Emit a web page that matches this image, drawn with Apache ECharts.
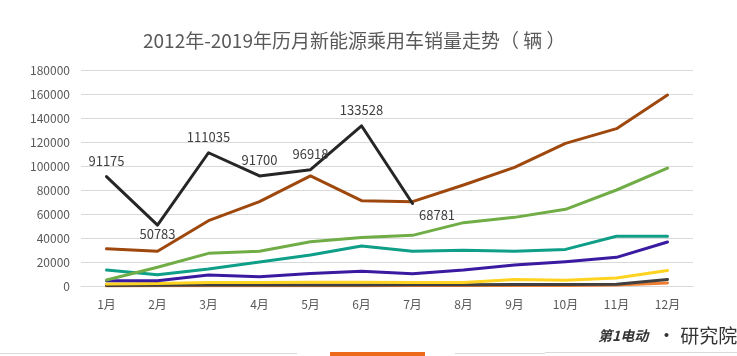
<!DOCTYPE html>
<html><head><meta charset="utf-8">
<script src="https://cdn.jsdelivr.net/npm/echarts@6/dist/echarts.min.js"></script>
<style>html,body{margin:0;padding:0;background:#fff}#c{width:737px;height:356px}</style>
</head><body><div id="c"></div>
<script>
const months = ['1月','2月','3月','4月','5月','6月','7月','8月','9月','10月','11月','12月'];
const seriesNames = ['2012','2013','2014','2015','2016','2017','2018','2019'];
const s2012 = [100,150,200,250,300,300,350,350,400,500,800,2600];
const s2013 = [500,600,800,800,900,900,1000,1000,1200,1300,1500,5500];
const s2014 = [1700,2000,3000,3000,3200,3200,3000,3000,5500,4800,6700,13000];
const s2015 = [4400,4400,9200,7800,10500,12200,10300,13300,17500,20300,23900,36700];
const s2016 = [13300,9400,14200,20000,25800,33300,28900,29700,28900,30500,41400,41400];
const s2017 = [5000,15600,27200,28900,36900,40500,42200,52800,57200,63900,80000,98300];
const s2018 = [31000,29000,54400,70300,91700,71100,70300,84200,98900,118900,131100,159200];
const s2019 = [91175,50783,111035,91700,96918,133528,68781];
const yTicks = [0,20000,40000,60000,80000,100000,120000,140000,160000,180000];
const colors = ['#ED7D31','#404040','#FFD320','#3A1AA0','#0F9E87','#70AD47','#9E480E','#262626'];
const allData = [s2012,s2013,s2014,s2015,s2016,s2017,s2018,s2019];

const font = '"Noto Sans CJK SC", "Noto Sans", sans-serif';
const series = allData.map((d, i) => {
  const s = {
    name: seriesNames[i], type: 'line', data: d, symbol: 'none',
    lineStyle: { width: 3, color: colors[i], cap: 'round', join: 'round' },
    itemStyle: { color: colors[i] }, z: 2 + i, animation: false
  };
  if (i === 7) {
    s.symbol = 'circle';
    s.symbolSize = 1;
    s.showSymbol = true;
    s.itemStyle = { color: 'rgba(0,0,0,0)', borderWidth: 0 };
    s.data = d.map((v, k) => {
      let lbl = { show: true, position: 'top', distance: 9 };
      if (k === 1) lbl = { show: true, position: 'bottom', distance: 2 };
      if (k === 6) lbl = { show: true, position: 'right', offset: [2, 12], distance: 4 };
      return { value: v, label: lbl };
    });
    s.label = { show: true, color: '#404040', fontSize: 13, fontFamily: font };
  }
  return s;
});

const chart = echarts.init(document.getElementById('c'));
chart.setOption({
  backgroundColor: '#fff',
  animation: false,
  title: {
    text: '2012年-2019年历月新能源乘用车销量走势（ 辆 ）',
    left: 138, top: 26,
    textStyle: { fontSize: 19, fontWeight: 'normal', color: '#595959', fontFamily: font }
  },
  grid: { left: 81, right: 44, top: 70, bottom: 70 },
  xAxis: {
    type: 'category', data: months, boundaryGap: true,
    axisLine: { lineStyle: { color: '#D9D9D9' } },
    axisTick: { show: false },
    axisLabel: { color: '#595959', fontSize: 12, margin: 12, fontFamily: font }
  },
  yAxis: {
    type: 'value', min: yTicks[0], max: yTicks[yTicks.length - 1], interval: yTicks[1] - yTicks[0],
    axisLine: { show: false }, axisTick: { show: false },
    splitLine: { lineStyle: { color: '#D9D9D9' } },
    axisLabel: { color: '#595959', fontSize: 12, margin: 11, fontFamily: font, formatter: v => String(v) }
  },
  series: series,
  graphic: [
    { type: 'rect', shape: { x: 0, y: 353, width: 297, height: 1 }, style: { fill: '#D9D9D9' } },
    { type: 'rect', shape: { x: 455, y: 353, width: 90, height: 1 }, style: { fill: '#D9D9D9' } },
    { type: 'rect', shape: { x: 545, y: 352, width: 192, height: 1 }, style: { fill: '#D9D9D9' } },
    { type: 'rect', shape: { x: 330, y: 352, width: 95, height: 4 }, style: { fill: '#ED6A1A' } },
    { type: 'text', left: 598, top: 329, style: { text: '第1电动', fill: '#333', font: 'italic bold 14px ' + font } },
    { type: 'text', left: 657, top: 326, style: { text: '• 研究院', fill: '#333', font: '19px ' + font } }
  ]
});
</script></body></html>
